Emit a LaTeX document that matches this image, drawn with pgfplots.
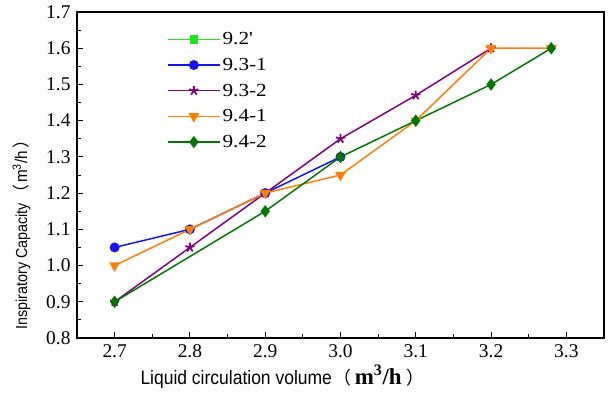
\documentclass[border=0pt]{standalone}
\usepackage{pgfplots}
\pgfplotsset{compat=1.18}
\usepackage{fontspec}
\setmainfont{Liberation Serif}
\newfontfamily\arial{Liberation Sans}
\newfontfamily\arialN[FakeStretch=0.9]{Liberation Sans}
\newfontfamily\cjk{Noto Sans CJK SC}
\newfontfamily\tickserif{Liberation Serif}
\newfontfamily\wideserif[FakeStretch=1.15]{Liberation Serif}
\definecolor{cA}{RGB}{30,230,30}
\definecolor{cB}{RGB}{20,20,240}
\definecolor{cC}{RGB}{128,0,128}
\definecolor{cD}{RGB}{255,128,0}
\definecolor{cE}{RGB}{0,120,0}
\begin{document}
\begin{tikzpicture}
\useasboundingbox (-77bp,-56bp) rectangle (539bp,338bp);
\begin{axis}[
  at={(0,0)}, anchor=south west,
  scale only axis, width=527bp, height=326bp,
  xmin=2.65, xmax=3.35, ymin=0.8, ymax=1.7,
  xtick={2.7,2.8,...,3.3}, ytick={0.8,0.9,...,1.7},
  minor x tick num=1, minor y tick num=1,
  tick align=inside, axis line style={line width=1.2pt}, tick style={black, line width=1pt},
  major tick length=6bp, minor tick length=4bp,
  xtick pos=bottom, ytick pos=left,
  /pgf/number format/.cd, fixed, fixed zerofill, precision=1, assume math mode=true,
  /pgfplots/.cd,
  tick label style={font=\tickserif\fontsize{19.5}{21}\selectfont},
  xticklabel style={yshift=-3bp},
  yticklabel style={xshift=-3bp},
  xlabel={\arialN\fontsize{19.5}{21}\selectfont Liquid circulation volume\hspace{2bp}{\cjk\fontsize{18}{20}\selectfont （}\hspace{3bp}{\rmfamily\bfseries\fontsize{23}{24}\selectfont m\textsuperscript{3}/h}\hspace{5bp}{\cjk\fontsize{18}{20}\selectfont ）}},
  ylabel={\arialN\fontsize{16}{18}\selectfont Inspiratory Capacity\hspace{1bp}{\cjk\fontsize{17}{18}\selectfont （}\hspace{2bp}{\fontsize{17}{18}\selectfont m\textsuperscript{3}/h}\hspace{3bp}{\cjk\fontsize{17}{18}\selectfont ）}},
  xlabel style={at={(ticklabel cs:0.39)}, anchor=north, yshift=0bp},
  ylabel style={at={(ticklabel cs:0.33)}, anchor=south, yshift=9bp},
  legend style={at={(0.165,0.95)}, anchor=north west, draw=none, fill=none,
    font=\wideserif\fontsize{18.5}{20}\selectfont, row sep=8bp, cells={anchor=west}},
  legend image code/.code={\draw[mark repeat=2,mark phase=2,#1] plot coordinates {(0bp,0bp) (26bp,0bp) (52bp,0bp)};},
  every axis plot/.append style={line width=1.5pt},
]
\addlegendimage{color=cA, line width=1.5pt, mark=square*, mark size=3.5bp}
\addlegendentry{9.2'}
\addplot[color=cB, mark=*, mark size=4.2bp] coordinates {(2.7,1.05) (2.8,1.1) (2.9,1.2) (3.0,1.3)};
\addlegendentry{9.3-1}
\addplot[color=cC, mark=star, mark size=4.8bp, mark options={line width=1.8pt}] coordinates {(2.7,0.9) (2.8,1.05) (2.9,1.2) (3.0,1.35) (3.1,1.47) (3.2,1.6)};
\addlegendentry{9.3-2}
\addplot[color=cD, mark=triangle*, mark size=4.8bp, mark options={rotate=180}] coordinates {(2.7,1.0) (2.8,1.1) (2.9,1.2) (3.0,1.25) (3.1,1.4) (3.2,1.6) (3.28,1.6)};
\addlegendentry{9.4-1}
\addplot[color=cE, mark=diamond*, mark size=5bp] coordinates {(2.7,0.9) (2.9,1.15) (3.0,1.3) (3.1,1.4) (3.2,1.5) (3.28,1.6)};
\addlegendentry{9.4-2}
\end{axis}
\end{tikzpicture}
\end{document}
